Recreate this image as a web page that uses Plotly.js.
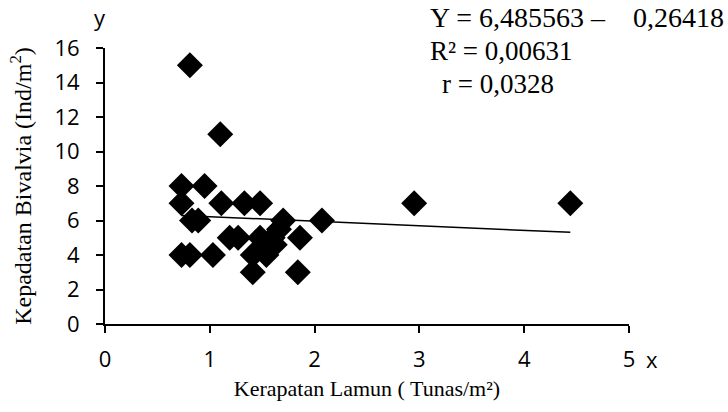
<!DOCTYPE html>
<html>
<head>
<meta charset="utf-8">
<script src="https://cdn.plot.ly/plotly-3.0.1.min.js"></script>
<style>html,body{margin:0;padding:0;background:#fff;}#chart{width:728px;height:412px;}</style>
</head>
<body>
<div id="chart"></div>
<script>
const seagrassDensity = [0.81, 1.10, 0.73, 0.95, 0.73, 1.11, 1.33, 1.48, 0.83, 0.89, 1.70, 2.07, 1.19, 1.27, 1.48, 1.60, 1.86, 0.73, 0.81, 1.03, 1.41, 1.54, 1.41, 1.84, 2.95, 4.44, 1.62, 1.66];
const bivalveDensity = [15, 11, 8, 8, 7, 7, 7, 7, 6, 6, 6, 6, 5, 5, 5, 5, 5, 4, 4, 4, 4, 4, 3, 3, 7, 7, 4.6, 5.5];
const intercept = 6.485563;
const slope = -0.26418;
const xTicks = [0, 1, 2, 3, 4, 5];
const yTicks = [0, 2, 4, 6, 8, 10, 12, 14, 16];

const xMin = Math.min(...seagrassDensity), xMax = Math.max(...seagrassDensity);
const fitX = [xMin, xMax];
const fitY = fitX.map(v => intercept + slope * v);

const serif = "Liberation Serif, Times New Roman, serif";
const sans = "Open Sans, Noto Sans, sans-serif";

const data = [
  {x: fitX, y: fitY, mode: 'lines', type: 'scatter', line: {color: '#000', width: 1.5}, hoverinfo: 'skip'},
  {x: seagrassDensity, y: bivalveDensity, mode: 'markers', type: 'scatter',
   marker: {symbol: 'diamond', size: 20, color: '#000', line: {width: 0}}}
];

const layout = {
  width: 728, height: 412,
  margin: {l: 105, r: 99, t: 48, b: 88},
  paper_bgcolor: '#fff', plot_bgcolor: '#fff',
  showlegend: false,
  font: {family: sans, color: '#000', size: 22},
  xaxis: {
    range: [0, 5], tickvals: xTicks, ticktext: xTicks.map(String),
    showgrid: false, zeroline: false, showline: true, linecolor: '#000', linewidth: 2,
    ticks: 'outside', ticklen: 7, tickwidth: 2, tickcolor: '#000',
    tickfont: {family: sans, size: 22}, ticklabelstandoff: 8,
    title: {text: 'Kerapatan Lamun ( Tunas/m²)', font: {family: serif, size: 22}, standoff: 8}
  },
  yaxis: {
    range: [0, 16], tickvals: yTicks, ticktext: yTicks.map(String),
    showgrid: false, zeroline: false, showline: true, linecolor: '#000', linewidth: 2,
    ticks: 'outside', ticklen: 7, tickwidth: 2, tickcolor: '#000',
    tickfont: {family: sans, size: 22}, ticklabelstandoff: 12,
    title: {text: 'Kepadatan Bivalvia (Ind/m<sup>2</sup>)', font: {family: serif, size: 24}, standoff: 16}
  },
  annotations: [
    {xref: 'paper', yref: 'paper', x: (100-105)/524, y: (324-17)/276, text: 'y', showarrow: false, font: {family: sans, size: 22}, xanchor: 'center', yanchor: 'middle'},
    {xref: 'paper', yref: 'paper', x: (652-105)/524, y: (324-359)/276, text: 'x', showarrow: false, font: {family: sans, size: 22}, xanchor: 'center', yanchor: 'middle'},
    {xref: 'paper', yref: 'paper', x: (428-105)/524, y: (324-18)/276, text: 'Y = 6,485563 –\u00a0\u00a0\u00a0 0,26418', showarrow: false, font: {family: serif, size: 28}, xanchor: 'left', yanchor: 'middle'},
    {xref: 'paper', yref: 'paper', x: (428-105)/524, y: (324-51)/276, text: 'R² = 0,00631', showarrow: false, font: {family: serif, size: 27}, xanchor: 'left', yanchor: 'middle'},
    {xref: 'paper', yref: 'paper', x: (440-105)/524, y: (324-84)/276, text: 'r = 0,0328', showarrow: false, font: {family: serif, size: 27}, xanchor: 'left', yanchor: 'middle'}
  ]
};

Plotly.newPlot('chart', data, layout, {displayModeBar: false, staticPlot: true});
</script>
</body>
</html>
